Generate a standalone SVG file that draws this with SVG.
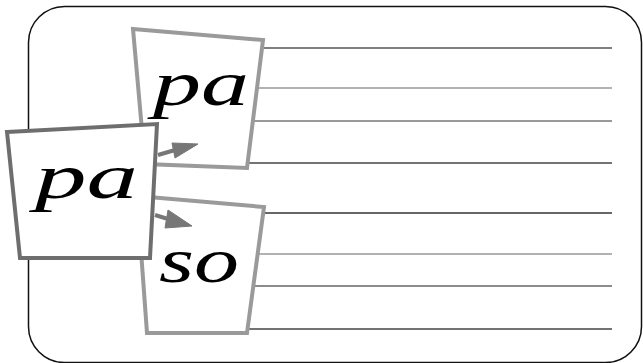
<svg xmlns="http://www.w3.org/2000/svg" width="643" height="363" viewBox="0 0 643 363">
<style>
.rule{stroke-width:1.5;fill:none}
.card{fill:#fff;stroke-width:4;stroke-linejoin:miter}
.light{stroke:#9a9a9a}
.dark{stroke:#6e6e6e}
.word{font-family:"Liberation Serif","DejaVu Serif",serif;font-style:italic;fill:#000}
.arrow{fill:#777;stroke:#777}
</style>
<rect x="28.5" y="6.5" width="613" height="356" rx="36" ry="36" fill="#fff" stroke="#111" stroke-width="1.5"/>
<g id="lines">
<line class="rule" x1="250" y1="48" x2="612" y2="48" stroke="#555"/>
<line class="rule" x1="250" y1="88" x2="612" y2="88" stroke="#999"/>
<line class="rule" x1="250" y1="121" x2="612" y2="121" stroke="#777"/>
<line class="rule" x1="240" y1="163" x2="612" y2="163" stroke="#444"/>
<line class="rule" x1="250" y1="213" x2="612" y2="213" stroke="#333"/>
<line class="rule" x1="250" y1="254" x2="612" y2="254" stroke="#999"/>
<line class="rule" x1="250" y1="286" x2="612" y2="286" stroke="#666"/>
<line class="rule" x1="240" y1="329" x2="612" y2="329" stroke="#444"/>
</g>
<g id="card-top">
<polygon class="card light" points="133,29 263,40 247,168 145,164"/>
<text class="word" x="153" y="105" font-size="64" textLength="96" lengthAdjust="spacingAndGlyphs">pa</text>
</g>
<g id="card-bottom">
<polygon class="card light" points="137,196 264,207 247,333 147,333"/>
<text class="word" x="159" y="282" font-size="64" textLength="80" lengthAdjust="spacingAndGlyphs">so</text>
</g>
<g id="card-front">
<polygon class="card dark" points="7,132 157,124 150,258 20,258"/>
<text class="word" x="35" y="198" font-size="64" textLength="103" lengthAdjust="spacingAndGlyphs">pa</text>
</g>
<g id="connectors">
<line x1="158" y1="155" x2="175" y2="150" stroke="#777" stroke-width="4"/>
<polygon class="arrow" points="172,143 198,144 175,158"/>
<line x1="155" y1="215" x2="168" y2="219" stroke="#777" stroke-width="4"/>
<polygon class="arrow" points="168,210 192,226 165,228"/>
</g>
</svg>
